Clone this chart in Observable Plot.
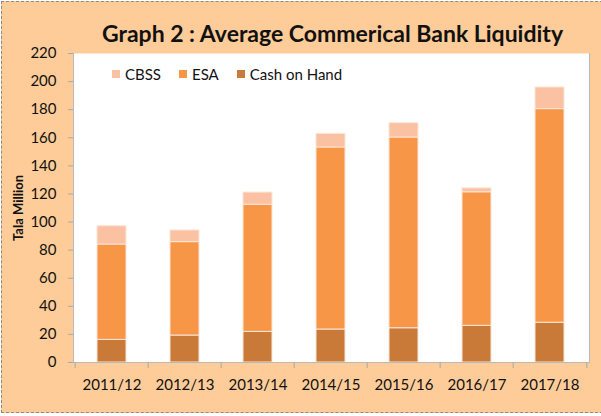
<!DOCTYPE html>
<html>
<head>
<meta charset="utf-8">
<script src="https://cdn.jsdelivr.net/npm/d3@7"></script>
<script src="https://cdn.jsdelivr.net/npm/@observablehq/plot@0.6"></script>
<style>
  html, body { margin: 0; padding: 0; background: #fff; }
  #wrap { position: relative; width: 601px; height: 416px; overflow: hidden; font-family: Lato, "Open Sans", sans-serif; }
  #bg { position: absolute; left: 1px; top: 1px; width: 610px; height: 410px; background: #FECC98; border: 1px dashed #8a8a8a; }
  #title { position: absolute; left: 0; width: 665px; top: 19px; text-align: center; font-weight: bold; font-size: 23px; color: #111; }
  #legend { position: absolute; left: 112px; top: 65px; display: flex; gap: 18px; font-size: 15px; color: #111; }
  #legend span.item { display: flex; align-items: center; gap: 5px; }
  #legend span.sw { width: 8px; height: 8px; display: inline-block; }
  #chart { position: absolute; left: 0; top: 0; }
</style>
</head>
<body>
<div id="wrap">
  <div id="bg"></div>
  <div id="chart"></div>
  <div id="title">Graph 2 : Average Commerical Bank Liquidity</div>
  <div id="legend"></div>
</div>
<script>
const years = ["2011/12", "2012/13", "2013/14", "2014/15", "2015/16", "2016/17", "2017/18"];
const seriesNames = ["Cash on Hand", "ESA", "CBSS"];
const cashOnHand = [16.1, 19.2, 21.8, 23.5, 24.4, 26.1, 28.3];
const esa = [67.9, 66.5, 90.5, 129.6, 135.8, 95.1, 152.1];
const cbss = [13.0, 8.3, 8.7, 9.7, 10.2, 2.8, 15.4];
const colors = ["#C97A38", "#F79646", "#FAC1A2"];
const yTicks = [0, 20, 40, 60, 80, 100, 120, 140, 160, 180, 200, 220];
const legendOrder = ["CBSS", "ESA", "Cash on Hand"];

const valuesBySeries = [cashOnHand, esa, cbss];
const rows = [];
seriesNames.forEach((s, si) => years.forEach((y, i) => rows.push({year: y, series: s, value: valuesBySeries[si][i]})));

const W = 601, H = 416, mL = 73, mR = 12, mT = 53, mB = 54;
const step = (W - mL - mR) / years.length;

const chart = Plot.plot({
  width: W, height: H,
  marginLeft: mL, marginRight: mR, marginTop: mT, marginBottom: mB,
  style: {background: "transparent", fontFamily: "Lato, 'Open Sans', sans-serif", fontSize: "15px", color: "#111"},
  x: {domain: years, paddingInner: 0.6, paddingOuter: 0.3, label: null},
  y: {domain: [0, 220], label: null},
  color: {domain: seriesNames, range: colors},
  marks: [
    Plot.frame({fill: "white", stroke: null}),
    Plot.barY(rows, {x: "year", y: "value", fill: "series", order: seriesNames, stroke: "#fbe6d8", strokeWidth: 1,
      style: "filter: drop-shadow(0px 0px 1.2px rgba(0,0,0,0.25))"}),
    Plot.ruleY([0], {stroke: "#b9b9b9", strokeWidth: 1}),
    Plot.frame({anchor: "left", stroke: "#b9b9b9"}),
    Plot.frame({anchor: "right", stroke: "#b9b9b9"}),
    Plot.axisY({ticks: yTicks, tickSize: 5, tickPadding: 12, stroke: "#a9a9a9", fontSize: 15, label: null}),
    Plot.axisY({label: "Tala Million", labelAnchor: "center", labelArrow: "none", ticks: [], tickSize: 0, labelOffset: 60, fontWeight: "bold", fontSize: 13}),
    Plot.axisX({tickSize: 0, tickPadding: 17, fontSize: 15, label: null}),
    Plot.axisX({tickSize: 6, tickFormat: () => "", dx: -step / 2, stroke: "#a9a9a9", label: null}),
    Plot.axisX({ticks: [years[years.length - 1]], tickSize: 6, tickFormat: () => "", dx: step / 2, stroke: "#a9a9a9", label: null})
  ]
});
document.getElementById("chart").appendChild(chart);

const leg = document.getElementById("legend");
legendOrder.forEach(name => {
  const it = document.createElement("span");
  it.className = "item";
  const sw = document.createElement("span");
  sw.className = "sw";
  sw.style.background = colors[seriesNames.indexOf(name)];
  const t = document.createElement("span");
  t.textContent = name;
  it.appendChild(sw); it.appendChild(t);
  leg.appendChild(it);
});
</script>
</body>
</html>
